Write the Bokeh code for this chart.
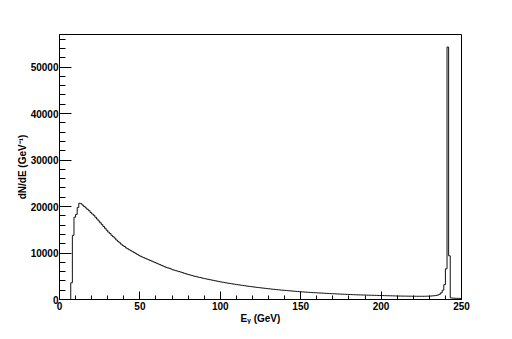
from bokeh.plotting import figure
from bokeh.models import FixedTicker, Range1d
from bokeh.embed import file_html
from bokeh.resources import INLINE

# Histogram binning
bin_width = 1.0
x_min, x_max = 0, 250
y_max = 57000

# bin contents (dN/dE per 1 GeV bin)
counts_000_049 = [0, 0, 0, 0, 0, 0, 0, 3600, 13800, 17700,
                  18300, 19800, 20700, 20600, 20300, 20000, 19700, 19400, 19100, 18700,
                  18400, 18100, 17700, 17300, 16900, 16500, 16100, 15700, 15300, 14900,
                  14500, 14200, 13800, 13500, 13200, 12800, 12500, 12200, 11900, 11600,
                  11400, 11100, 10900, 10700, 10500, 10300, 10100, 9900, 9700, 9500]
counts_050_099 = [9300, 9150, 9000, 8850, 8700, 8550, 8400, 8250, 8100, 7950,
                  7800, 7650, 7500, 7350, 7200, 7050, 6900, 6800, 6700, 6550,
                  6400, 6300, 6200, 6100, 6000, 5900, 5800, 5650, 5550, 5450,
                  5350, 5250, 5150, 5050, 4970, 4880, 4800, 4720, 4640, 4560,
                  4480, 4410, 4340, 4270, 4200, 4130, 4060, 3990, 3920, 3850]
counts_100_149 = [3780, 3720, 3660, 3600, 3540, 3480, 3420, 3370, 3310, 3260,
                  3200, 3150, 3100, 3050, 3000, 2950, 2900, 2850, 2800, 2760,
                  2710, 2670, 2620, 2580, 2540, 2500, 2460, 2420, 2380, 2340,
                  2300, 2260, 2220, 2190, 2150, 2110, 2080, 2040, 2010, 1980,
                  1950, 1920, 1890, 1860, 1830, 1800, 1770, 1740, 1710, 1680]
counts_150_199 = [1650, 1630, 1600, 1580, 1560, 1530, 1510, 1490, 1470, 1450,
                  1430, 1410, 1390, 1370, 1350, 1330, 1310, 1290, 1270, 1250,
                  1240, 1220, 1200, 1180, 1170, 1150, 1130, 1120, 1100, 1090,
                  1070, 1060, 1040, 1030, 1020, 1000, 990, 980, 970, 960,
                  950, 940, 930, 920, 910, 900, 890, 880, 870, 860]
counts_200_249 = [850, 840, 830, 820, 810, 800, 790, 780, 770, 760,
                  750, 745, 740, 735, 730, 725, 720, 715, 710, 705,
                  700, 700, 695, 695, 690, 690, 695, 700, 710, 720,
                  740, 760, 790, 830, 890, 980, 1150, 1450, 2000, 3200,
                  6600, 54300, 9400, 350, 300, 280, 260, 250, 240, 230]

x_major_ticks = [0, 50, 100, 150, 200, 250]
x_minor_ticks = list(range(0, 251, 10))
y_major_ticks = [0, 10000, 20000, 30000, 40000, 50000]
y_minor_ticks = list(range(0, 57001, 2000))

x_title = "E\u1d67 (GeV)"
y_title = "dN/dE (GeV\u207b\u00b9)"

counts = counts_000_049 + counts_050_099 + counts_100_149 + counts_150_199 + counts_200_249
edges = [x_min + i * bin_width for i in range(len(counts) + 1)]
step_y = counts + [counts[-1]]

p = figure(width=504, height=331, output_backend="svg", toolbar_location=None,
           x_range=Range1d(x_min, x_max), y_range=Range1d(0, y_max),
           min_border_left=59, min_border_right=43, min_border_top=34, min_border_bottom=32,
           background_fill_color="white", border_fill_color="white")

p.step(x=edges, y=step_y, mode="after", line_color="#111111", line_width=1)

p.xgrid.visible = False
p.ygrid.visible = False
p.outline_line_color = "black"
p.outline_line_width = 1

p.xaxis.ticker = FixedTicker(ticks=x_major_ticks, minor_ticks=x_minor_ticks)
p.yaxis.ticker = FixedTicker(ticks=y_major_ticks, minor_ticks=y_minor_ticks)

for ax in (p.xaxis[0], p.yaxis[0]):
    ax.axis_line_color = "black"
    ax.major_tick_line_color = "black"
    ax.minor_tick_line_color = "black"
    ax.major_tick_out = 0
    ax.minor_tick_out = 0
    ax.major_label_text_font = "Liberation Sans"
    ax.major_label_text_font_style = "bold"
    ax.major_label_text_font_size = "10px"
    ax.major_label_text_color = "black"
    ax.axis_label_text_font = "Liberation Sans"
    ax.axis_label_text_font_style = "bold"
    ax.axis_label_text_font_size = "10px"
    ax.axis_label_text_color = "black"

p.xaxis.major_tick_in = 8
p.xaxis.minor_tick_in = 4
p.yaxis.major_tick_in = 12
p.yaxis.minor_tick_in = 6

p.xaxis.axis_label = x_title
p.yaxis.axis_label = y_title
p.xaxis.major_label_standoff = 2
p.xaxis.axis_label_standoff = 0
p.yaxis.major_label_standoff = 1
p.yaxis.axis_label_standoff = 0

open("out.html", "w").write(file_html(p, INLINE))
